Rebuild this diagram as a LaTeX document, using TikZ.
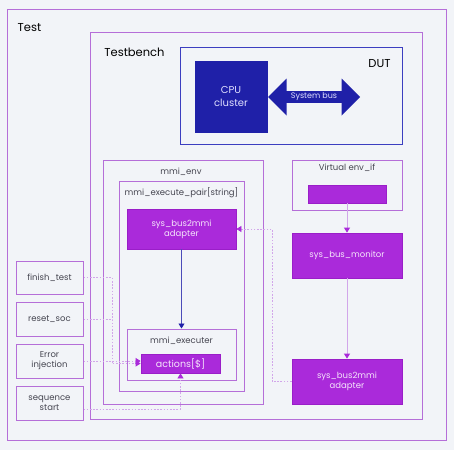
\documentclass[tikz,border=0pt]{standalone}
\usepackage{fontspec}
\setmainfont{Poppins}
\usepackage{tikz}
\usetikzlibrary{arrows.meta, shapes.arrows}
\definecolor{bgc}{HTML}{F2F4F8}
\definecolor{lilac}{HTML}{B56ED8}
\definecolor{lilaclight}{HTML}{D2A6EA}
\definecolor{purp}{HTML}{AA2ADA}
\definecolor{purpdark}{HTML}{9A1EC8}
\definecolor{navy}{HTML}{1F20A8}
\definecolor{dutblue}{HTML}{3C3EC0}
\definecolor{txt}{HTML}{454550}

\begin{document}
\begin{tikzpicture}[
            x=1pt, y=-1pt,
            every node/.style={inner sep=0pt, font=\fontsize{8.5}{10}\selectfont},
            frame/.style={draw=lilac, line width=1pt},
            lbl/.style={text=txt},
            fbox/.style={draw=purpdark, fill=purp, line width=0.8pt, text=purp!12, align=center},
            title/.style={font=\fontsize{11.5}{13}\selectfont, text=black},
            dashline/.style={draw=lilaclight, line width=0.8pt, dash pattern=on 1.6pt off 1.6pt},
            >={Triangle[length=5pt, width=6pt, color=purp]}
        ]
            \fill[bgc] (0,0) rectangle (454,450);
            \node[frame, minimum width=439pt, minimum height=431pt] (test) at (227,225) {};
            \node[frame, minimum width=332pt, minimum height=387pt] (bench) at (256,225.5) {};
            \node[draw=dutblue, line width=1pt, minimum width=222pt, minimum height=97pt] (dut) at (291.5,96) {};
            \node[fill=navy, draw=navy, minimum width=72pt, minimum height=71pt, align=center, text=blue!12, font=\fontsize{10}{13}\selectfont] (cpu) at (231,96.5) {CPU\\cluster};
            \node[double arrow, fill=navy, minimum width=37pt, minimum height=92pt, double arrow head extend=9pt, text=blue!12, font=\fontsize{8}{9}\selectfont] (bus) at (314,97) {System bus};
            \node[title] (ltest) at (29.5,28) {Test};
            \node[title] (lbench) at (134.5,52) {Testbench};
            \node[title] (ldut) at (379.5,64) {DUT};
            \node[frame, minimum width=160pt, minimum height=244pt] (env) at (183,282) {};
            \node[frame, minimum width=125pt, minimum height=210pt] (pair) at (181.5,286) {};
            \node[lbl] (lenv) at (181,172) {mmi\_env};
            \node[lbl] (lpair) at (181.5,193) {mmi\_execute\_pair[string]};
            \node[fbox, minimum width=109pt, minimum height=40pt] (adapt) at (181.5,229) {sys\_bus2mmi\\adapter};
            \node[frame, minimum width=109pt, minimum height=51pt] (exec) at (181.5,354.5) {};
            \node[lbl] (lexec) at (181.5,341) {mmi\_executer};
            \node[fbox, minimum width=79pt, minimum height=19pt, font=\fontsize{9.5}{11}\selectfont] (actions) at (180.5,363.5) {actions[\$]};
            \node[frame, minimum width=110pt, minimum height=50pt] (vif) at (347,185) {};
            \node[lbl] (lvif) at (347,168) {Virtual env\_if};
            \node[fbox, minimum width=78pt, minimum height=18pt] (vifbar) at (347,194) {};
            \node[fbox, minimum width=110pt, minimum height=45pt] (monitor) at (347,255.5) {sys\_bus\_monitor};
            \node[fbox, minimum width=110pt, minimum height=45pt] (adapt2) at (347,381.5) {sys\_bus2mmi\\adapter};
            \node[frame, lbl, minimum width=67pt, minimum height=33pt] (finish) at (49.5,277.5) {finish\_test};
            \node[frame, lbl, minimum width=67pt, minimum height=34pt] (reset) at (49.5,319) {reset\_soc};
            \node[frame, lbl, minimum width=67pt, minimum height=34pt, align=center] (err) at (49.5,361) {Error\\injection};
            \node[frame, lbl, minimum width=67pt, minimum height=34pt, align=center] (seq) at (49.5,403) {sequence\\start};
            \coordinate (lj) at (112,320);
            \coordinate (rj) at (272,300);
            \draw[navy!80, line width=0.6pt, -{Triangle[length=5pt, width=6pt, color=navy]}] (adapt) -- (exec);
            \path[draw=lilaclight, line width=1pt, ->]
            (vifbar) edge (monitor)
            (monitor) edge (adapt2)
            ;
            \path[dashline, ->]
            (adapt2.west) -| (rj) |- (adapt.east);
            \path[dashline, ->]
            (finish.east) -| (lj) |- (actions.west);
            \path[dashline]
            (reset.east) -- (reset.east -| lj);
            \path[dashline, ->]
            (err.east) -- (err.east -| actions.west);
            \path[dashline, ->]
            ([yshift=-6pt]seq.east) -| (actions.south);
        \end{tikzpicture}
\end{document}
